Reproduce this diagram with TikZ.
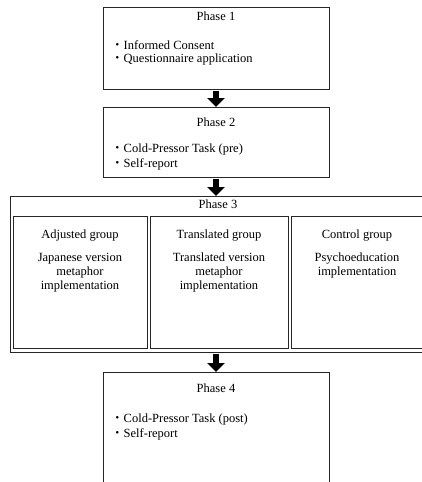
\documentclass[tikz,border=0pt]{standalone}
\usepackage{fontspec}
\setmainfont{Liberation Serif}
\newfontfamily\cjk{Noto Sans CJK JP}
\usetikzlibrary{arrows.meta}
\begin{document}
\begin{tikzpicture}[x=1pt,y=-1pt,
  box/.style={draw=black!85, line width=0.9pt, inner sep=0pt, outer sep=0pt, anchor=north west},
  txt/.style={font=\fontsize{12.5}{14}\selectfont, inner sep=0pt, anchor=base, align=center},
  bul/.style={font=\fontsize{12.5}{15}\selectfont, inner sep=0pt, anchor=base west},
  blockarrow/.style={line width=6pt, -{Triangle[width=17pt,length=9pt]}, shorten <=2pt}]
\useasboundingbox (0,0) rectangle (422,482);
% Phase 1
\node[box, minimum width=226pt, minimum height=82pt] (p1) at (103,7) {};
\node[txt] (p1t) at (216,20) {Phase 1};
\node[bul] (p1a) at (111,49) {{\cjk ・}Informed Consent};
\node[bul] (p1b) at (111,62) {{\cjk ・}Questionnaire application};
% Phase 2
\node[box, minimum width=226pt, minimum height=70pt] (p2) at (103,107) {};
\node[txt] (p2t) at (216,126) {Phase 2};
\node[bul] (p2a) at (111,152) {{\cjk ・}Cold-Pressor Task (pre)};
\node[bul] (p2b) at (111,167) {{\cjk ・}Self-report};
% Phase 3
\node[box, minimum width=417pt, minimum height=156pt] (p3) at (10,196) {};
\node[txt] (p3t) at (218,208) {Phase 3};
\node[box, minimum width=134pt, minimum height=132pt] (g1) at (13,216) {};
\node[box, minimum width=138pt, minimum height=132pt] (g2) at (150,216) {};
\node[box, minimum width=133pt, minimum height=132pt] (g3) at (291,216) {};
\node[txt] (g1t) at (80,238) {Adjusted group};
\node[txt, anchor=north] (g1b) at (80,253) {Japanese version\\metaphor\\implementation};
\node[txt] (g2t) at (219,238) {Translated group};
\node[txt, anchor=north] (g2b) at (219,253) {Translated version\\metaphor\\implementation};
\node[txt] (g3t) at (357,238) {Control group};
\node[txt, anchor=north] (g3b) at (357,253) {Psychoeducation\\implementation};
% Phase 4
\node[box, minimum width=226pt, minimum height=120pt] (p4) at (103,372) {};
\node[txt] (p4t) at (216,392) {Phase 4};
\node[bul] (p4a) at (111,422) {{\cjk ・}Cold-Pressor Task (post)};
\node[bul] (p4b) at (111,437) {{\cjk ・}Self-report};
% arrows
\draw[blockarrow] (p1.south) -- (p2.north);
\draw[blockarrow] (p2.south) -- (p2.south |- p3.north);
\draw[blockarrow] (p3.south -| p4.north) -- (p4.north);
\end{tikzpicture}
\end{document}
